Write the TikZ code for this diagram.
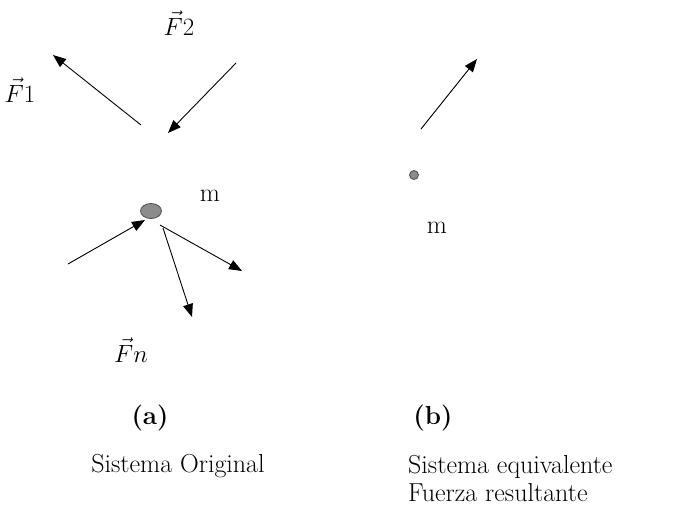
\documentclass[tikz,border=0pt]{standalone}
\usepackage{amsmath,amssymb}
\usepackage{fontspec}
\usepackage{xcolor}
\usepackage{tikz}
\usetikzlibrary{arrows.meta,positioning,shapes.geometric}
\tikzset{
  force/.style={-{Triangle[length=13pt,width=10pt]},line width=0.9pt},
  mass/.style={draw=black!70,fill=black!45,ellipse,inner sep=0pt,line width=0.8pt},
  lbl/.style={font=\fontsize{26}{28}\selectfont,inner sep=0pt},
  captxt/.style={font=\fontsize{26}{28}\selectfont\bfseries,inner sep=0pt},
}
\begin{document}
\begin{tikzpicture}[x=1pt,y=-1pt]
\useasboundingbox (0,0) rectangle (682,509);
% (a) sistema original
\node[mass,minimum width=21pt,minimum height=15pt] (m1) at (151,211) {};
\node[lbl] (mlab1) at (210,196) {m};
\coordinate (t1) at (141,125); \coordinate (h1) at (53,55);
\coordinate (t2) at (236,63);  \coordinate (h2) at (168,133);
\coordinate (t3) at (68,264);
\coordinate (h4) at (242,271);
\coordinate (h5) at (192,317);
\draw[force] (t1)--(h1);
\draw[force] (t2)--(h2);
\draw[force] (t3)--(145,220);
\draw[force] (160,225)--(h4);
\draw[force] (163,228)--(h5);
\node[lbl] (f1) at (20,90) {$\vec{F}1$};
\node[lbl] (f2) at (179,23) {$\vec{F}2$};
\node[lbl] (fn) at (131,350) {$\vec{F}n$};
\node[captxt] (ca) at (150,418) {(a)};
\node[lbl] (ta) at (178,466) {Sistema Original};
% (b) sistema equivalente
\node[mass,minimum width=9pt,minimum height=9pt] (m2) at (414,175) {};
\node[lbl] (mlab2) at (437,228) {m};
\coordinate (tr) at (421,129); \coordinate (hr) at (477,59);
\draw[force] (tr)--(hr);
\node[captxt] (cb) at (433,418) {(b)};
\node[lbl,anchor=west,align=left] (tb) at (408,479) {Sistema equivalente\\Fuerza resultante};
\end{tikzpicture}
\end{document}
